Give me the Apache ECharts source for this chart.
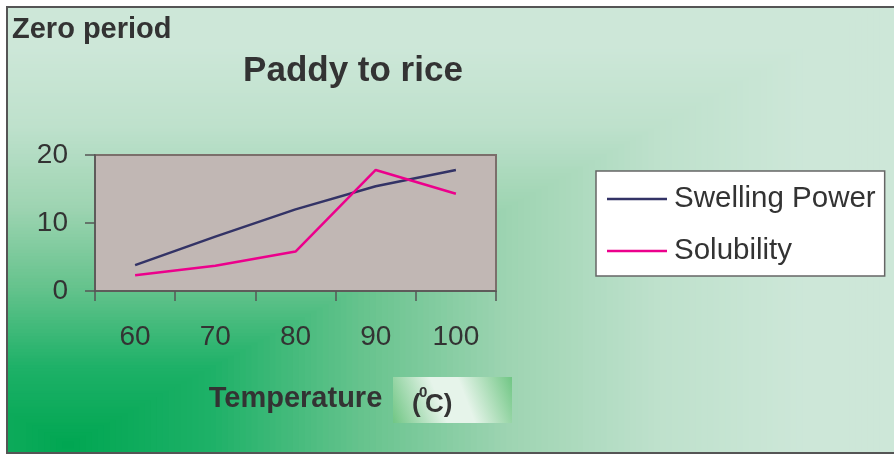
<!DOCTYPE html>
<html>
<head>
<meta charset="utf-8">
<script src="https://cdn.jsdelivr.net/npm/echarts@6/dist/echarts.min.js"></script>
<style>
html,body{margin:0;padding:0;background:#fff;}
#chart{width:894px;height:456px;}
</style>
</head>
<body>
<div id="chart"></div>
<script>
// ---- data ----
const categories = ['60', '70', '80', '90', '100'];
const swellingPower = [3.8, 8.0, 12.0, 15.4, 17.8];
const solubility = [2.3, 3.7, 5.8, 17.8, 14.3];
const yTicks = { min: 0, max: 20, interval: 10 };
const seriesNames = ['Swelling Power', 'Solubility'];

// ---- background (corner gradient of the frame) ----
const stops = [
  [0.0, [0, 166, 81]],
  [0.2, [30, 177, 104]],
  [0.4, [102, 195, 141]],
  [0.6, [158, 212, 178]],
  [0.8, [190, 225, 204]],
  [1.0, [205, 231, 216]]
];
function colorAt(t) {
  if (t >= 1) t = 1;
  for (let i = 1; i < stops.length; i++) {
    if (t <= stops[i][0]) {
      const [t0, c0] = stops[i - 1], [t1, c1] = stops[i];
      const f = (t - t0) / (t1 - t0);
      const c = c0.map((v, k) => Math.round(v + (c1[k] - v) * f));
      return 'rgb(' + c.join(',') + ')';
    }
  }
  return 'rgb(205,231,216)';
}
const frame = { x0: 8, y0: 8, x1: 894, y1: 452 };
const cx = 68, cy = 445, ax = 740, by = 400;
const bg = [];
const N = 150;
for (let i = N; i >= 0; i--) {
  const t = (i / N) * 1.2;
  const x0 = Math.max(frame.x0, cx - ax * t), x1 = Math.min(frame.x1, cx + ax * t);
  const y0 = Math.max(frame.y0, cy - by * t), y1 = Math.min(frame.y1, cy + by * t);
  if (x1 <= x0 || y1 <= y0) continue;
  bg.push({ type: 'rect', silent: true, z: -20,
    shape: { x: x0, y: y0, width: x1 - x0, height: y1 - y0 },
    style: { fill: colorAt(t), stroke: null } });
}
bg.push({ type: 'rect', silent: true, z: -19,
  shape: { x: 7, y: 7, width: 890, height: 446 },
  style: { fill: null, stroke: '#555', lineWidth: 2 } });

// unit box "(0C)"
bg.push({ type: 'rect', silent: true, z: -18,
  shape: { x: 393, y: 377, width: 119, height: 46 },
  style: { fill: new echarts.graphic.LinearGradient(1, 0, 0, 1, [
    { offset: 0, color: '#70c684' },
    { offset: 0.4, color: '#e6f4ea' },
    { offset: 0.6, color: '#e6f4ea' },
    { offset: 1, color: '#70c684' }
  ]) } });
const unitFont = 'Liberation Sans, Arial, sans-serif';
bg.push({ type: 'text', silent: true, z: 10, x: 412, y: 405,
  style: { text: '(', font: 'bold 26px ' + unitFont, fill: '#333', textVerticalAlign: 'middle' } });
bg.push({ type: 'text', silent: true, z: 10, x: 419, y: 393,
  style: { text: '0', font: 'bold 15px ' + unitFont, fill: '#333', textVerticalAlign: 'middle' } });
bg.push({ type: 'text', silent: true, z: 10, x: 425, y: 405,
  style: { text: 'C)', font: 'bold 26px ' + unitFont, fill: '#333', textVerticalAlign: 'middle' } });

const chart = echarts.init(document.getElementById('chart'), null, { renderer: 'canvas' });
const FONT = 'Liberation Sans, Arial, sans-serif';
chart.setOption({
  backgroundColor: '#fff',
  animation: false,
  textStyle: { fontFamily: FONT },
  graphic: bg,
  title: [
    { text: 'Zero period', left: 12, top: 15, padding: 0,
      textStyle: { fontSize: 29, fontWeight: 'bold', color: '#333', fontFamily: FONT } },
    { text: 'Paddy to rice', left: 353, top: 54, padding: 0, textAlign: 'center',
      textStyle: { fontSize: 35, fontWeight: 'bold', color: '#333', fontFamily: FONT } }
  ],
  legend: {
    orient: 'vertical', left: 596, top: 171,
    padding: [13, 9, 10, 11],
    backgroundColor: '#fff', borderColor: '#666', borderWidth: 1.5,
    icon: 'rect', itemWidth: 60, itemHeight: 2.5, itemGap: 22,
    textStyle: { fontSize: 29.5, color: '#333', fontFamily: FONT, lineHeight: 30, padding: [0, 0, 0, 2] },
    data: seriesNames
  },
  grid: {
    left: 95, right: 398, top: 155, bottom: 165,
    show: true, backgroundColor: '#c1b7b4', borderColor: '#7b6f6b', borderWidth: 2
  },
  xAxis: {
    type: 'category', data: categories, boundaryGap: true,
    name: 'Temperature', nameLocation: 'middle', nameGap: 93,
    nameTextStyle: { fontSize: 29, fontWeight: 'bold', color: '#333', fontFamily: FONT },
    axisLine: { show: true, lineStyle: { color: '#555', width: 1.5 } },
    axisTick: { show: true, length: 10, lineStyle: { color: '#555', width: 1.5 } },
    axisLabel: { fontSize: 28, color: '#333', margin: 32, fontFamily: FONT },
    splitLine: { show: false }
  },
  yAxis: {
    type: 'value', min: yTicks.min, max: yTicks.max, interval: yTicks.interval,
    axisLine: { show: true, lineStyle: { color: '#555', width: 1.5 } },
    axisTick: { show: true, length: 10, lineStyle: { color: '#555', width: 1.5 } },
    axisLabel: { fontSize: 28, color: '#333', margin: 27, fontFamily: FONT },
    splitLine: { show: false }
  },
  series: [
    { name: seriesNames[0], type: 'line', data: swellingPower, symbol: 'none',
      lineStyle: { color: '#333366', width: 2.5 }, itemStyle: { color: '#333366' } },
    { name: seriesNames[1], type: 'line', data: solubility, symbol: 'none',
      lineStyle: { color: '#ec008c', width: 2.5 }, itemStyle: { color: '#ec008c' } }
  ]
});
</script>
</body>
</html>
